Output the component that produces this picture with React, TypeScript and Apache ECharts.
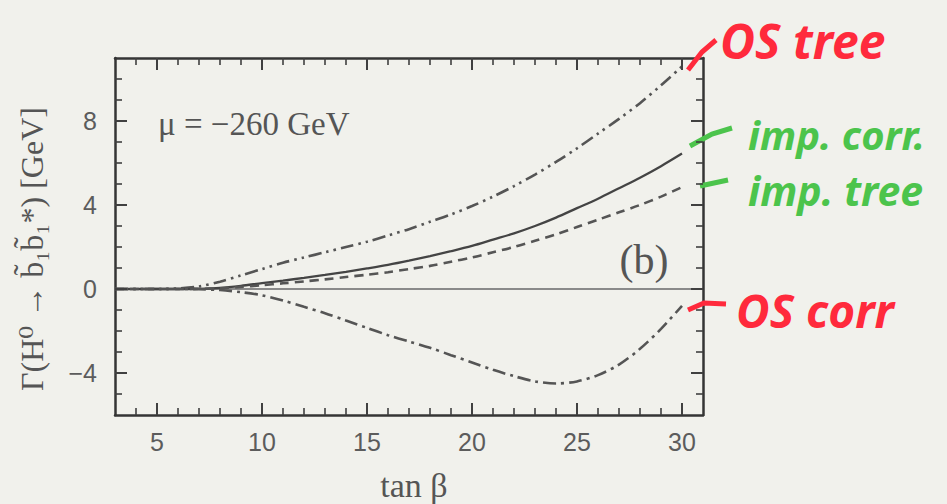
import React, { useEffect, useRef } from "react";
import * as echarts from "echarts";

// tan(beta) sample points
const tanBeta = [3, 4, 5, 6, 7, 8, 9, 10, 11, 12, 13, 14, 15, 16, 17, 18, 19, 20, 21, 22, 23, 24, 25, 26, 27, 28, 29, 30];
// widths in GeV
const osTree = [0, 0, 0, 0.03, 0.12, 0.35, 0.65, 0.95, 1.25, 1.5, 1.75, 2.0, 2.25, 2.55, 2.85, 3.2, 3.55, 3.95, 4.4, 4.9, 5.45, 6.05, 6.7, 7.4, 8.1, 8.85, 9.7, 10.6];
const impCorr = [0, 0, 0, 0, 0.01, 0.05, 0.15, 0.28, 0.4, 0.53, 0.67, 0.82, 0.98, 1.15, 1.35, 1.57, 1.8, 2.05, 2.35, 2.65, 3.0, 3.4, 3.85, 4.3, 4.8, 5.3, 5.85, 6.45];
const impTree = [0, 0, 0, 0, 0.01, 0.03, 0.1, 0.18, 0.27, 0.36, 0.46, 0.57, 0.68, 0.8, 0.95, 1.1, 1.3, 1.5, 1.75, 2.0, 2.3, 2.6, 2.95, 3.3, 3.65, 4.0, 4.4, 4.85];
const osCorr = [0, 0, 0, 0, -0.01, -0.05, -0.15, -0.3, -0.55, -0.85, -1.15, -1.5, -1.85, -2.2, -2.5, -2.8, -3.15, -3.5, -3.85, -4.15, -4.4, -4.5, -4.4, -4.1, -3.6, -2.85, -1.9, -0.8];

// axis ticks
const xMajorTicks = [5, 10, 15, 20, 25, 30];
const xMinorTicks = [4, 6, 7, 8, 9, 11, 12, 13, 14, 16, 17, 18, 19, 21, 22, 23, 24, 26, 27, 28, 29];
const yMajorTicks = [-4, 0, 4, 8];
const yMinorTicks = [-5, -3, -2, -1, 1, 2, 3, 5, 6, 7, 9, 10];
const xMin = 3, xMax = 31, yMin = -6, yMax = 11;

const GRID = { left: 115, top: 58, width: 588, height: 357 };
const INK = "#404040";
const FRAME = "#353535";
const LABEL = "#5c5c5c";
const RED = "#ff2a3c";
const GREEN = "#4cc44c";

export default function App() {
  const ref = useRef<HTMLDivElement>(null);
  useEffect(() => {
    if (!ref.current) return;
    const chart = echarts.init(ref.current, null, { renderer: "svg" });
    const pts = (vals: number[]) => tanBeta.map((t, i) => [t, vals[i]]);

    const axisLine = () => ({ show: true, onZero: false, lineStyle: { color: FRAME, width: 2.5 } });

    const mkX = (pos: "bottom" | "top") => ({
      type: "value",
      position: pos,
      min: xMin,
      max: xMax,
      axisLine: axisLine(),
      splitLine: { show: false },
      axisTick: { show: false },
      axisLabel:
        pos === "bottom"
          ? { show: true, customValues: xMajorTicks, fontSize: 25, color: LABEL, margin: 14, fontFamily: "Liberation Sans, Arial, sans-serif" }
          : { show: false },
    });
    const mkY = (pos: "left" | "right") => ({
      type: "value",
      position: pos,
      min: yMin,
      max: yMax,
      axisLine: axisLine(),
      splitLine: { show: false },
      axisTick: { show: false },
      axisLabel:
        pos === "left"
          ? {
              show: true,
              customValues: yMajorTicks,
              fontSize: 25,
              color: LABEL,
              margin: 18,
              fontFamily: "Liberation Sans, Arial, sans-serif",
              formatter: (v: number) => (v < 0 ? "\u2212" + Math.abs(v) : String(v)),
            }
          : { show: false },
    });

    const line = (name: string, vals: number[], type: any, width: number, color: string) => ({
      name,
      type: "line",
      xAxisIndex: 0,
      yAxisIndex: 0,
      data: pts(vals),
      smooth: 0.3,
      showSymbol: false,
      symbol: "none",
      lineStyle: { color, width, type },
      z: 3,
    });

    const baseGraphics: any[] = [
      {
        type: "text",
        x: 32,
        y: 249,
        rotation: Math.PI / 2,
        style: {
          text: "\u0393(H\u2070 \u2192 b\u0303\u2081b\u0303\u2081*) [GeV]",
          font: "32px 'Liberation Serif', 'DejaVu Serif', serif",
          fill: "#555",
          align: "center",
          verticalAlign: "middle",
        },
      },
      {
        type: "text",
        x: 414,
        y: 485,
        style: {
          text: "tan \u03b2",
          font: "34px 'Liberation Serif', 'DejaVu Serif', serif",
          fill: "#555",
          align: "center",
          verticalAlign: "middle",
        },
      },
      {
        type: "text",
        x: 158,
        y: 124,
        style: {
          text: "\u03bc = \u2212260 GeV",
          font: "33px 'Liberation Serif', 'DejaVu Serif', serif",
          fill: "#555",
          align: "left",
          verticalAlign: "middle",
        },
      },
      {
        type: "text",
        x: 644,
        y: 260,
        style: {
          text: "(b)",
          font: "42px 'Liberation Serif', 'DejaVu Serif', serif",
          fill: "#555",
          align: "center",
          verticalAlign: "middle",
        },
      },
      // handwritten annotations
      { type: "polyline", shape: { points: [[688, 70], [702, 52], [716, 40]] }, style: { stroke: RED, lineWidth: 5, fill: "none" }, z: 10 },
      {
        type: "text", x: 720, y: 40,
        style: { text: "OS tree", font: "italic bold 48px 'Noto Sans', sans-serif", fill: RED, align: "left", verticalAlign: "middle" },
        z: 10,
      },
      { type: "polyline", shape: { points: [[690, 146], [712, 134], [732, 128]] }, style: { stroke: GREEN, lineWidth: 5, fill: "none" }, z: 10 },
      {
        type: "text", x: 748, y: 134,
        style: { text: "imp. corr.", font: "italic bold 40px 'Noto Sans', sans-serif", fill: GREEN, align: "left", verticalAlign: "middle" },
        z: 10,
      },
      { type: "polyline", shape: { points: [[700, 186], [728, 180]] }, style: { stroke: GREEN, lineWidth: 5, fill: "none" }, z: 10 },
      {
        type: "text", x: 748, y: 190,
        style: { text: "imp. tree", font: "italic bold 41px 'Noto Sans', sans-serif", fill: GREEN, align: "left", verticalAlign: "middle" },
        z: 10,
      },
      { type: "polyline", shape: { points: [[688, 310], [704, 303], [726, 304]] }, style: { stroke: RED, lineWidth: 5, fill: "none" }, z: 10 },
      {
        type: "text", x: 736, y: 310,
        style: { text: "OS corr", font: "italic bold 46px 'Noto Sans', sans-serif", fill: RED, align: "left", verticalAlign: "middle" },
        z: 10,
      },
    ];

    // frame ticks: positions from the chart's own scales (with a linear fallback)
    const MAJOR_PX = 12, MINOR_PX = 7;
    const toPx = (p: number[]): number[] => {
      try {
        const r = chart.convertToPixel({ xAxisIndex: 0, yAxisIndex: 0 } as any, p) as any;
        if (r && isFinite(r[0]) && isFinite(r[1])) return r;
      } catch (e) {
        /* fall through */
      }
      return [
        GRID.left + ((p[0] - xMin) / (xMax - xMin)) * GRID.width,
        GRID.top + ((yMax - p[1]) / (yMax - yMin)) * GRID.height,
      ];
    };
    const buildTicks = () => {
      const ticks: any[] = [];
      const rect = (x: number, y: number, w: number, h: number) => ({
        type: "rect",
        silent: true,
        z: 50,
        shape: { x, y, width: w, height: h },
        style: { fill: INK },
      });
      const addX = (v: number, major: boolean) => {
        const len = major ? MAJOR_PX : MINOR_PX;
        const w = major ? 2 : 1.6;
        const b = toPx([v, yMin]);
        const t = toPx([v, yMax]);
        ticks.push(rect(b[0] - w / 2, b[1] - len, w, len));
        ticks.push(rect(t[0] - w / 2, t[1], w, len));
      };
      const addY = (v: number, major: boolean) => {
        const len = major ? MAJOR_PX : MINOR_PX;
        const w = major ? 2 : 1.6;
        const l = toPx([xMin, v]);
        const r = toPx([xMax, v]);
        ticks.push(rect(l[0], l[1] - w / 2, len, w));
        ticks.push(rect(r[0] - len, r[1] - w / 2, len, w));
      };
      xMajorTicks.forEach((v) => addX(v, true));
      xMinorTicks.forEach((v) => addX(v, false));
      yMajorTicks.forEach((v) => addY(v, true));
      yMinorTicks.forEach((v) => addY(v, false));
      return ticks;
    };

    chart.setOption({
      animation: false,
      backgroundColor: "#f1f1ec",
      grid: { ...GRID, show: false, containLabel: false },
      xAxis: [mkX("bottom"), mkX("top")],
      yAxis: [mkY("left"), mkY("right")],
      series: [
        {
          ...line("OS tree", osTree, [13, 5, 2.5, 5, 2.5, 5], 2.6, "#555"),
          markLine: {
            silent: true,
            symbol: "none",
            label: { show: false },
            lineStyle: { color: "#8a8a8a", type: "solid", width: 2 },
            data: [{ yAxis: 0 }],
            z: 2,
          },
        },
        line("imp. corr.", impCorr, "solid", 2.3, "#444"),
        line("imp. tree", impTree, [9, 6], 2.6, "#555"),
        line("OS corr", osCorr, [13, 5, 3, 5], 2.6, "#555"),
      ],
      graphic: baseGraphics,
    });

    chart.setOption({ graphic: { elements: [...baseGraphics, ...buildTicks()] } });

    return () => chart.dispose();
  }, []);
  return (
    <div
      ref={ref}
      style={{ position: "fixed", left: 0, top: 0, width: 947, height: 504, background: "#f1f1ec" }}
    />
  );
}
